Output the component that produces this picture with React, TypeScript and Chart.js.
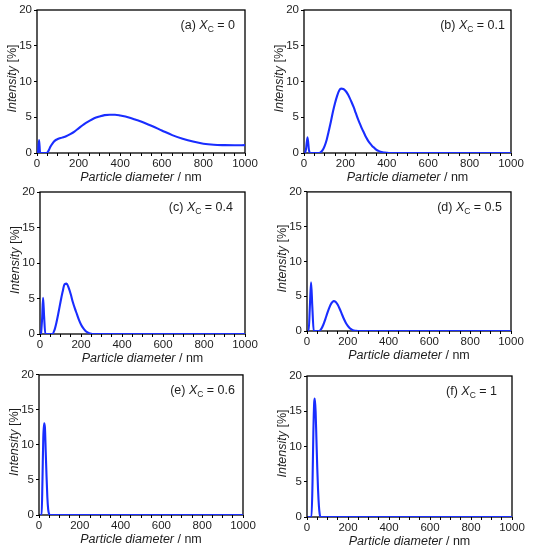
import React, { useEffect, useRef } from "react";
import { Chart, registerables } from "chart.js";
Chart.register(...registerables);

// ---- tick values ----
const xTickValues = [0, 50, 100, 150, 200, 250, 300, 350, 400, 450, 500, 550, 600, 650, 700, 750, 800, 850, 900, 950, 1000];
const xTickLabels = [0, 200, 400, 600, 800, 1000];
const yTickValues = [0, 5, 10, 15, 20];

// ---- panel names ----
const panelTags = ["(a)", "(b)", "(c)", "(d)", "(e)", "(f)"];
const xcValues = ["0", "0.1", "0.4", "0.5", "0.6", "1"];

// ---- series: particle diameter (nm) / intensity (%) ----
const xA = [5, 10, 15, 47, 55, 65, 75, 85, 100, 120, 140, 160, 180, 200, 225, 250, 275, 300, 325, 350, 375, 400, 425, 450, 475, 500, 550, 600, 650, 700, 750, 800, 850, 900, 950, 1000];
const yA = [0, 1.8, 0, 0, 0.3, 0.9, 1.35, 1.7, 1.95, 2.15, 2.35, 2.65, 3.0, 3.45, 4.0, 4.45, 4.85, 5.1, 5.3, 5.35, 5.35, 5.25, 5.1, 4.9, 4.65, 4.4, 3.8, 3.15, 2.5, 2.0, 1.6, 1.3, 1.15, 1.1, 1.08, 1.1];

const xB = [5, 10, 17, 24, 30, 70, 80, 90, 100, 110, 120, 130, 140, 150, 160, 170, 180, 190, 200, 210, 220, 230, 240, 250, 260, 270, 280, 290, 300, 310, 320, 330, 340, 350, 360, 370, 380, 390, 400, 410, 1000];
const yB = [0, 0.6, 2.2, 0.4, 0, 0, 0.1, 0.4, 1.0, 1.9, 3.1, 4.4, 5.8, 7.0, 8.0, 8.75, 9.0, 8.95, 8.7, 8.3, 7.75, 7.1, 6.4, 5.6, 4.8, 4.1, 3.4, 2.8, 2.2, 1.7, 1.3, 0.95, 0.7, 0.45, 0.3, 0.18, 0.1, 0.05, 0.02, 0, 0];

const xC = [5, 10, 15, 20, 26, 60, 70, 80, 90, 100, 110, 120, 130, 140, 150, 160, 170, 180, 190, 200, 210, 220, 230, 240, 250, 260, 1000];
const yC = [0, 2.0, 5.1, 2.5, 0, 0, 0.5, 1.6, 3.0, 4.5, 5.9, 7.0, 7.1, 6.5, 5.6, 4.5, 3.6, 2.8, 2.0, 1.35, 0.85, 0.5, 0.25, 0.1, 0.03, 0, 0];

const xD = [5, 8, 14, 20, 26, 33, 60, 70, 80, 90, 100, 110, 120, 130, 140, 150, 160, 170, 180, 190, 200, 210, 220, 230, 240, 250, 1000];
const yD = [0, 0, 3.5, 7.0, 3.5, 0, 0, 0.3, 0.9, 1.7, 2.6, 3.4, 4.0, 4.3, 4.2, 3.8, 3.2, 2.5, 1.8, 1.2, 0.75, 0.4, 0.2, 0.08, 0.02, 0, 0];

const xE = [5, 13, 17, 21, 25, 29, 33, 37, 41, 45, 50, 53, 1000];
const yE = [0, 0, 5, 11, 13.1, 12.5, 9, 5.5, 2.5, 0.8, 0.1, 0, 0];

const xF = [5, 22, 27, 31, 35, 38, 42, 46, 50, 54, 58, 62, 66, 1000];
const yF = [0, 0, 5, 12, 16.2, 16.8, 15, 11, 7, 3.8, 1.6, 0.4, 0, 0];

const seriesX = [xA, xB, xC, xD, xE, xF];
const seriesY = [yA, yB, yC, yD, yE, yF];

// ---- layout (canvas-relative plot areas) ----
const W = 267;
const H = 184;
const panelLayout = [
  { left: 0, top: 0, l: 37, r: 245, t: 10, b: 153, tagRight: 10 },
  { left: 267, top: 0, l: 37, r: 244, t: 10, b: 153, tagRight: 6 },
  { left: 0, top: 183, l: 40, r: 245, t: 9, b: 151, tagRight: 12 },
  { left: 267, top: 183, l: 40, r: 244, t: 7, b: 148, tagRight: 9 },
  { left: 0, top: 366, l: 39, r: 243, t: 8, b: 149, tagRight: 8 },
  { left: 267, top: 366, l: 40, r: 245, t: 10, b: 151, tagRight: 15 },
];

const FONT = '"Liberation Sans", Arial, Helvetica, sans-serif';
const TEXT = "#1e1e1e";
const LINE = "rgb(25, 45, 255)";

function makeDecor(idx: number) {
  return {
    id: "decor" + idx,
    beforeDatasetsDraw(chart: any) {
      const { ctx, chartArea } = chart;
      ctx.save();
      ctx.strokeStyle = "#000";
      ctx.lineWidth = 1.3;
      ctx.strokeRect(chartArea.left, chartArea.top, chartArea.right - chartArea.left, chartArea.bottom - chartArea.top);
      ctx.restore();
    },
    afterDraw(chart: any) {
      const { ctx, chartArea } = chart;
      const lay = panelLayout[idx];
      ctx.save();
      ctx.fillStyle = TEXT;
      ctx.textBaseline = "alphabetic";
      ctx.textAlign = "left";

      // x title
      ctx.font = `italic 12.5px ${FONT}`;
      const xt1 = "Particle diameter";
      const w1 = ctx.measureText(xt1).width;
      ctx.font = `12.5px ${FONT}`;
      const xt2 = " / nm";
      const w2 = ctx.measureText(xt2).width;
      const cx = (chartArea.left + chartArea.right) / 2;
      const xStart = cx - (w1 + w2) / 2;
      const yBase = chartArea.bottom + 28;
      ctx.font = `italic 12.5px ${FONT}`;
      ctx.fillText(xt1, xStart, yBase);
      ctx.font = `12.5px ${FONT}`;
      ctx.fillText(xt2, xStart + w1, yBase);

      // y title (rotated)
      ctx.save();
      const cy = (chartArea.top + chartArea.bottom) / 2 - 3;
      ctx.translate(chartArea.left - 21, cy);
      ctx.rotate(-Math.PI / 2);
      ctx.font = `italic 12.5px ${FONT}`;
      const yt1 = "Intensity";
      const v1 = ctx.measureText(yt1).width;
      ctx.font = `12.5px ${FONT}`;
      const yt2 = " [%]";
      const v2 = ctx.measureText(yt2).width;
      const ys = -(v1 + v2) / 2;
      ctx.font = `italic 12.5px ${FONT}`;
      ctx.fillText(yt1, ys, 0);
      ctx.font = `12.5px ${FONT}`;
      ctx.fillText(yt2, ys + v1, 0);
      ctx.restore();

      // panel tag: "(a) X_C = 0"
      const parts = [
        { t: panelTags[idx] + " ", f: `12.5px ${FONT}`, dy: 0 },
        { t: "X", f: `italic 12.5px ${FONT}`, dy: 0 },
        { t: "C", f: `8.5px ${FONT}`, dy: 3 },
        { t: " = " + xcValues[idx], f: `12.5px ${FONT}`, dy: 0 },
      ];
      let total = 0;
      const widths = parts.map((p) => {
        ctx.font = p.f;
        const w = ctx.measureText(p.t).width;
        total += w;
        return w;
      });
      let px = chartArea.right - lay.tagRight - total;
      const py = chartArea.top + 19;
      parts.forEach((p, i) => {
        ctx.font = p.f;
        ctx.fillText(p.t, px, py + p.dy);
        px += widths[i];
      });
      ctx.restore();
    },
  };
}

function Panel({ idx }: { idx: number }) {
  const ref = useRef<HTMLCanvasElement | null>(null);
  useEffect(() => {
    const lay = panelLayout[idx];
    const xs = seriesX[idx];
    const ys = seriesY[idx];
    const chart = new Chart(ref.current as HTMLCanvasElement, {
      type: "line",
      data: {
        datasets: [
          {
            data: xs.map((v, i) => ({ x: v, y: ys[i] })),
            borderColor: LINE,
            borderWidth: 2.1,
            pointRadius: 0,
            fill: false,
            cubicInterpolationMode: "monotone",
          },
        ],
      },
      options: {
        responsive: false,
        animation: false,
        layout: { padding: { left: 0, top: lay.t, right: W - lay.r, bottom: 0 } },
        plugins: { legend: { display: false }, tooltip: { enabled: false } },
        scales: {
          x: {
            type: "linear",
            min: 0,
            max: 1000,
            afterFit: (s: any) => {
              s.height = H - lay.b;
            },
            afterBuildTicks: (s: any) => {
              s.ticks = xTickValues.map((v) => ({ value: v }));
            },
            ticks: {
              autoSkip: false,
              maxRotation: 0,
              padding: 1,
              color: TEXT,
              font: { family: FONT, size: 11.5 },
              callback: (v: any) => (xTickLabels.includes(Number(v)) ? String(v) : ""),
            },
            grid: { drawOnChartArea: false, drawTicks: true, tickLength: 3, color: "#000", lineWidth: 1 },
            border: { display: false },
          },
          y: {
            type: "linear",
            min: 0,
            max: 20,
            afterFit: (s: any) => {
              s.width = lay.l;
            },
            afterBuildTicks: (s: any) => {
              s.ticks = yTickValues.map((v) => ({ value: v }));
            },
            ticks: {
              padding: 2,
              color: TEXT,
              font: { family: FONT, size: 11.5 },
              callback: (v: any) => String(v),
            },
            grid: { drawOnChartArea: false, drawTicks: true, tickLength: 3, color: "#000", lineWidth: 1 },
            border: { display: false },
          },
        },
      },
      plugins: [makeDecor(idx)],
    } as any);
    return () => chart.destroy();
  }, [idx]);
  const lay = panelLayout[idx];
  return (
    <canvas
      ref={ref}
      width={W}
      height={H}
      style={{ position: "absolute", left: lay.left, top: lay.top, width: W, height: H }}
    />
  );
}

export default function App() {
  return (
    <div style={{ position: "absolute", left: 0, top: 0, width: 534, height: 550, background: "#fff", overflow: "hidden" }}>
      {panelLayout.map((_, i) => (
        <Panel key={i} idx={i} />
      ))}
    </div>
  );
}
